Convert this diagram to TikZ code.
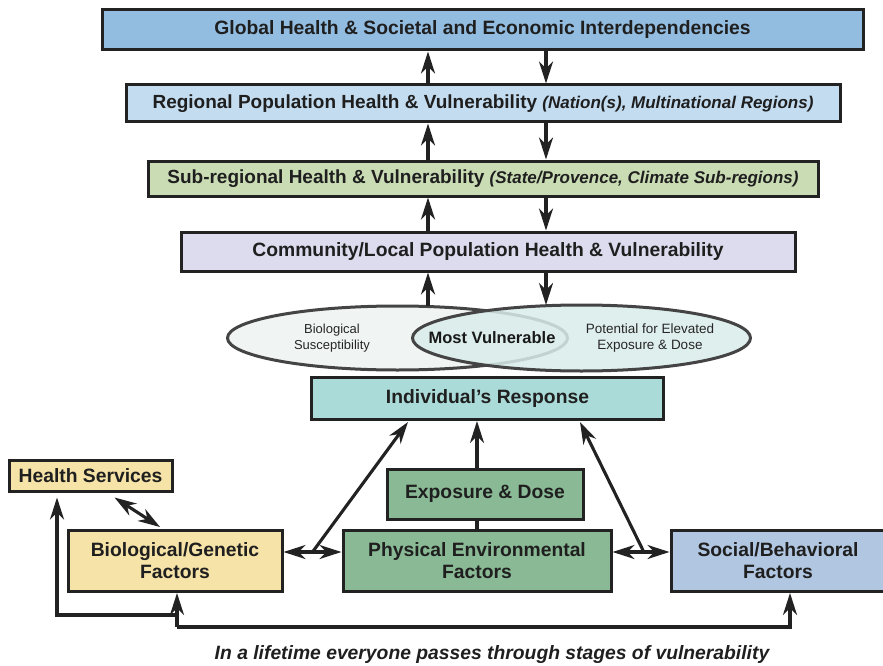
\documentclass[tikz,border=0pt]{standalone}
\usepackage{fontspec}
\setmainfont{Liberation Sans}
\usetikzlibrary{arrows.meta,shapes.geometric,calc}
\definecolor{linec}{HTML}{222222}
\definecolor{cglobal}{HTML}{93BDE0}
\definecolor{cregion}{HTML}{C3DCF0}
\definecolor{csub}{HTML}{CADCB4}
\definecolor{ccomm}{HTML}{DDDCEE}
\definecolor{cindiv}{HTML}{AADBD8}
\definecolor{cgreen}{HTML}{8ABA95}
\definecolor{cyellow}{HTML}{F6E3A8}
\definecolor{csocial}{HTML}{B1C6E0}
\definecolor{cellL}{HTML}{F0F4F3}
\definecolor{cellR}{HTML}{D9ECEA}
\definecolor{cellline}{HTML}{444444}
\tikzset{
  box/.style={draw=linec, line width=3pt, inner sep=0pt, align=center,
    font=\bfseries\fontsize{19.3}{22}\selectfont, text=black!88},
  tip/.tip={Stealth[length=22pt,width=14pt,inset=7pt]},
  arr/.style={-tip, line width=3.1pt, draw=linec},
  darr/.style={tip-tip, line width=3.1pt, draw=linec},
  plain/.style={line width=3.1pt, draw=linec},
  ell/.style={ellipse, draw=cellline, line width=3pt, inner sep=0pt},
  subtxt/.style={font=\fontsize{13}{15.5}\selectfont, align=center, text=black!85}
}
\begin{document}
\begin{tikzpicture}[x=1pt,y=-1pt]
\useasboundingbox (0,0) rectangle (883,666);
% boxes
\node[box, fill=cglobal, minimum width=761pt, minimum height=40pt] (global) at (482.5,30) {Global Health \& Societal and Economic Interdependencies};
\node[box, fill=cregion, minimum width=714pt, minimum height=37pt] (regional) at (483,103.5) {\fontsize{19}{22}\selectfont Regional Population Health \& Vulnerability {\itshape\fontsize{17}{19}\selectfont (Nation(s), Multinational Regions)}};
\node[box, fill=csub, minimum width=670pt, minimum height=35pt] (subreg) at (483,178.5) {\fontsize{19}{22}\selectfont Sub-regional Health \& Vulnerability {\itshape\fontsize{17}{19}\selectfont (State/Provence, Climate Sub-regions)}};
\node[box, fill=ccomm, minimum width=614pt, minimum height=39pt] (comm) at (488,251.5) {Community/Local Population Health \& Vulnerability};
% ellipses
\node[ell, fill=cellL, minimum width=340pt, minimum height=64pt] (lell) at (397.5,338) {};
\node[ell, fill=cellR, fill opacity=0.85, minimum width=338pt, minimum height=66pt] (rell) at (581.5,338) {};
\node[subtxt] (lt) at (332,338) {Biological\\Susceptibility};
\node[subtxt, font=\fontsize{13.5}{15.5}\selectfont] (rt) at (650,338) {Potential for Elevated\\Exposure \& Dose};
\node[font=\bfseries\fontsize{16.5}{19}\selectfont, text=black!90] (mv) at (492,338) {Most Vulnerable};
% lower boxes
\node[box, fill=cindiv, minimum width=352pt, minimum height=42pt] (indiv) at (487.5,398.5) {Individual’s Response};
\node[box, fill=cgreen, minimum width=196pt, minimum height=50pt] (expo) at (485,494) {Exposure \& Dose};
\node[box, fill=cgreen, minimum width=268pt, minimum height=61pt] (phys) at (477,561) {Physical Environmental\\Factors};
\node[box, fill=cyellow, minimum width=214pt, minimum height=61pt] (bio) at (175,561) {Biological/Genetic\\Factors};
\node[box, fill=cyellow, minimum width=163pt, minimum height=31pt] (health) at (90.5,475.5) {Health Services};
\node[box, fill=csocial, minimum width=214pt, minimum height=61pt] (social) at (778,561) {Social/Behavioral\\Factors};
% caption
\node[font=\bfseries\itshape\fontsize{19.3}{22}\selectfont, text=black!88] (cap) at (492,655) {In a lifetime everyone passes through stages of vulnerability};
% helper coordinates
\coordinate (ux) at (428,0);
\coordinate (dx) at (546,0);
\coordinate (ex) at (477,0);
\coordinate (hy) at (0,552);
\coordinate (lb) at (177,627);
\coordinate (lb2) at (177,615);
\coordinate (hx) at (57,0);
\coordinate (rx) at (790,0);
\coordinate (t1) at (408,422);
\coordinate (t2) at (580,422);
% vertical arrows
\draw[arr] (regional.north -| ux) -- (global.south -| ux);
\draw[arr] (global.south -| dx) -- (regional.north -| dx);
\draw[arr] (subreg.north -| ux) -- (regional.south -| ux);
\draw[arr] (regional.south -| dx) -- (subreg.north -| dx);
\draw[arr] (comm.north -| ux) -- (subreg.south -| ux);
\draw[arr] (subreg.south -| dx) -- (comm.north -| dx);
\draw[arr] ($(lell.north -| ux)+(0,1)$) -- (comm.south -| ux);
\draw[arr] (comm.south -| dx) -- ($(rell.north -| dx)+(0,1.5)$);
% exposure
\draw[plain] (phys.north -| ex) -- (expo.south -| ex);
\draw[arr] (expo.north -| ex) -- (indiv.south -| ex);
% horizontals
\draw[darr] (bio.east |- hy) -- (phys.west |- hy);
\draw[darr] (phys.east |- hy) -- (social.west |- hy);
\coordinate (m1) at ($(bio.east |- hy)!0.5!(phys.west |- hy)$);
\coordinate (m2) at ($(phys.east |- hy)!0.55!(social.west |- hy)$);
\draw[arr] (m1) -- (t1);
\draw[arr] (m2) -- (t2);
% health services link
\draw[darr] ($(health.south)+(24,5)$) -- ($(bio.north)+(-15,-2)$);
% bottom loop
\draw[arr] (lb2) -- (lb2 -| hx) -- ($(health.south -| hx)+(0,5)$);
\draw[arr] (lb) -- (bio.south -| lb);
\draw[arr] (lb) -- (lb -| rx) -- (social.south -| rx);
\end{tikzpicture}
\end{document}
